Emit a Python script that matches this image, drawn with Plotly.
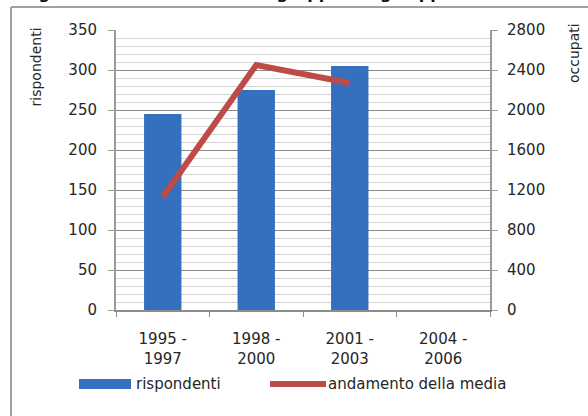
import plotly.graph_objects as go

categories = ["1995 -<br>1997", "1998 -<br>2000", "2001 -<br>2003", "2004 -<br>2006"]
rispondenti = [245, 275, 305, None]
media = [1130, 2450, 2270, None]

left_ticks = [0, 50, 100, 150, 200, 250, 300, 350]
right_ticks = [0, 400, 800, 1200, 1600, 2000, 2400, 2800]

FONT = "DejaVu Sans"
TXT = "#262626"
FS = 15

fig = go.Figure()
fig.add_trace(go.Bar(x=categories, y=rispondenti, name="rispondenti",
                     marker=dict(color="#3470bd", line=dict(width=0)),
                     width=0.4, showlegend=False))
fig.add_trace(go.Scatter(x=categories, y=media, name="andamento della media",
                         mode="lines", line=dict(color="#be4b48", width=6),
                         yaxis="y2", showlegend=False))

W, H = 588, 416
L, R, T, B = 116, 98, 30, 106
pw, ph = W - L - R, H - T - B

def px(x):
    return (x - L) / pw

def py(y):
    return (H - B - y) / ph

fig.update_layout(
    width=W, height=H,
    margin=dict(l=L, r=R, t=T, b=B, autoexpand=False),
    paper_bgcolor="white", plot_bgcolor="white",
    font=dict(family=FONT, size=FS, color=TXT),
    bargap=0.6,
    xaxis=dict(showline=True, linecolor="#8c8c8c", linewidth=2,
               ticks="outside", tickson="boundaries", ticklen=5, tickcolor="#8c8c8c",
               tickfont=dict(size=FS, color=TXT), showgrid=False,
               ticklabelstandoff=14),
    yaxis=dict(range=[0, 350], tickvals=left_ticks, showline=True, linecolor="#9a9a9a",
               linewidth=2, ticks="outside", ticklen=6, tickcolor="#9a9a9a",
               gridcolor="#8a8a8a", gridwidth=1, zeroline=False,
               minor=dict(dtick=10, showgrid=True, gridcolor="#d4d4d4", gridwidth=1),
               tickfont=dict(size=FS, color=TXT), ticklabelstandoff=8),
    yaxis2=dict(range=[0, 2800], tickvals=right_ticks, overlaying="y", side="right",
                showline=True, linecolor="#9a9a9a", linewidth=2, ticks="outside",
                ticklen=6, tickcolor="#9a9a9a", showgrid=False, zeroline=False,
                tickfont=dict(size=FS, color=TXT), ticklabelstandoff=6),
)

shapes = []
# outer frame
shapes.append(dict(type="line", xref="paper", yref="paper", x0=px(11), x1=px(11),
                   y0=py(7), y1=py(420), line=dict(color="#a0a0a0", width=2)))
shapes.append(dict(type="line", xref="paper", yref="paper", x0=px(11), x1=px(600),
                   y0=py(7), y1=py(7), line=dict(color="#a0a0a0", width=2)))
# legend swatches
shapes.append(dict(type="rect", xref="paper", yref="paper", x0=px(79), x1=px(131),
                   y0=py(389), y1=py(379), fillcolor="#3470bd", line=dict(width=0)))
shapes.append(dict(type="line", xref="paper", yref="paper", x0=px(270), x1=px(326),
                   y0=py(384), y1=py(384), line=dict(color="#be4b48", width=6)))
fig.update_layout(shapes=shapes)

ann = [
    dict(text="rispondenti", x=px(35), y=py(26), xref="paper", yref="paper",
         textangle=-90, xanchor="center", yanchor="top", showarrow=False,
         font=dict(size=FS - 1, color=TXT)),
    dict(text="occupati", x=px(574), y=py(21), xref="paper", yref="paper",
         textangle=-90, xanchor="center", yanchor="top", showarrow=False,
         font=dict(size=FS - 1, color=TXT)),
    dict(text="rispondenti", x=px(134), y=py(384), xref="paper", yref="paper",
         xanchor="left", yanchor="middle", showarrow=False, font=dict(size=FS, color=TXT)),
    dict(text="andamento della media", x=px(326), y=py(384), xref="paper", yref="paper",
         xanchor="left", yanchor="middle", showarrow=False, font=dict(size=FS, color=TXT)),
    dict(text="<b>Figura 8.7 – Numerosità dei gruppi e degli appartenenti</b>",
         x=px(20), y=py(-6.5), xref="paper", yref="paper", xanchor="left", yanchor="middle",
         showarrow=False, font=dict(size=16, color="#111")),
]
fig.update_layout(annotations=ann)

fig.write_html("out.html", config={"displayModeBar": False},
               post_script="document.body.style.margin='0';")
